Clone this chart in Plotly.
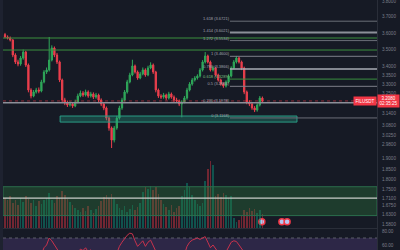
import math
import plotly.graph_objects as go

BG = "#161a25"
UP = "#2fa85a"
DOWN = "#ec3f4d"

# ---------------- candle data (index = bar number) ----------------
opens = [3.590, 3.575, 3.569, 3.557, 3.468, 3.427, 3.415, 3.450, 3.485, 3.409,
         3.268, 3.235, 3.257, 3.268, 3.262, 3.313, 3.369, 3.381, 3.438, 3.509,
         3.468, 3.427, 3.324, 3.213, 3.197, 3.186, 3.191, 3.181, 3.202, 3.235,
         3.251, 3.240, 3.257, 3.235, 3.246, 3.229, 3.240, 3.213, 3.191, 3.170,
         3.116, 3.064, 3.002, 3.064, 3.116, 3.170, 3.213, 3.257, 3.313, 3.352,
         3.404, 3.369, 3.335, 3.358, 3.381, 3.352, 3.392, 3.409, 3.369, 3.268,
         3.235, 3.229, 3.240, 3.224, 3.246, 3.229, 3.213, 3.208, 3.191, 3.202,
         3.224, 3.268, 3.301, 3.324, 3.335, 3.346, 3.381, 3.427, 3.462, 3.427,
         3.381, 3.392, 3.352, 3.324, 3.301, 3.290, 3.313, 3.346, 3.392, 3.427,
         3.450, 3.427, 3.392, 3.257, 3.202, 3.191, 3.170, 3.159, 3.186, 3.224]
highs = [3.600, 3.585, 3.578, 3.562, 3.478, 3.440, 3.462, 3.500, 3.492, 3.418,
         3.278, 3.268, 3.280, 3.282, 3.325, 3.380, 3.395, 3.575, 3.525, 3.518,
         3.480, 3.435, 3.332, 3.225, 3.210, 3.205, 3.200, 3.215, 3.248, 3.265,
         3.262, 3.270, 3.266, 3.258, 3.255, 3.252, 3.248, 3.222, 3.200, 3.178,
         3.124, 3.072, 3.075, 3.128, 3.182, 3.225, 3.268, 3.325, 3.365, 3.440,
         3.412, 3.378, 3.370, 3.395, 3.390, 3.405, 3.425, 3.418, 3.376, 3.276,
         3.245, 3.252, 3.248, 3.258, 3.254, 3.238, 3.225, 3.216, 3.212, 3.235,
         3.280, 3.312, 3.335, 3.346, 3.356, 3.392, 3.438, 3.485, 3.470, 3.435,
         3.405, 3.400, 3.360, 3.332, 3.310, 3.322, 3.356, 3.402, 3.438, 3.462,
         3.458, 3.435, 3.400, 3.265, 3.212, 3.200, 3.180, 3.195, 3.235, 3.232]
lows = [3.568, 3.560, 3.548, 3.455, 3.415, 3.402, 3.405, 3.440, 3.398, 3.255,
        3.222, 3.228, 3.248, 3.250, 3.255, 3.305, 3.358, 3.372, 3.430, 3.455,
        3.415, 3.312, 3.200, 3.185, 3.175, 3.178, 3.170, 3.174, 3.195, 3.228,
        3.230, 3.232, 3.225, 3.226, 3.218, 3.220, 3.202, 3.180, 3.158, 3.104,
        3.050, 2.962, 2.990, 3.055, 3.108, 3.160, 3.205, 3.248, 3.305, 3.345,
        3.360, 3.325, 3.328, 3.350, 3.342, 3.345, 3.385, 3.358, 3.255, 3.224,
        3.218, 3.220, 3.212, 3.216, 3.220, 3.202, 3.198, 3.180, 3.120, 3.195,
        3.215, 3.260, 3.292, 3.315, 3.326, 3.338, 3.372, 3.418, 3.418, 3.372,
        3.372, 3.342, 3.315, 3.292, 3.280, 3.282, 3.305, 3.338, 3.385, 3.418,
        3.418, 3.380, 3.245, 3.190, 3.180, 3.160, 3.148, 3.150, 3.178, 3.198]
closes = [3.575, 3.569, 3.557, 3.468, 3.427, 3.415, 3.450, 3.485, 3.409, 3.268,
          3.235, 3.257, 3.268, 3.262, 3.313, 3.369, 3.381, 3.438, 3.509, 3.468,
          3.427, 3.324, 3.213, 3.197, 3.186, 3.191, 3.181, 3.202, 3.235, 3.251,
          3.240, 3.257, 3.235, 3.246, 3.229, 3.240, 3.213, 3.191, 3.170, 3.116,
          3.064, 3.002, 3.064, 3.116, 3.170, 3.213, 3.257, 3.313, 3.352, 3.404,
          3.369, 3.335, 3.358, 3.381, 3.352, 3.392, 3.409, 3.369, 3.268, 3.235,
          3.229, 3.240, 3.224, 3.246, 3.229, 3.213, 3.208, 3.191, 3.202, 3.224,
          3.268, 3.301, 3.324, 3.335, 3.346, 3.381, 3.427, 3.462, 3.427, 3.381,
          3.392, 3.352, 3.324, 3.301, 3.290, 3.313, 3.346, 3.392, 3.427, 3.450,
          3.427, 3.392, 3.257, 3.202, 3.191, 3.170, 3.159, 3.186, 3.224, 3.208]
volume = [31, 29, 33, 26, 29, 24, 31, 27, 33, 30, 26, 29, 23, 28, 25, 29, 31, 36, 29, 26,
          33, 31, 38, 34, 30, 27, 24, 21, 19, 17, 21, 18, 23, 19, 16, 20, 23, 28, 32, 34,
          31, 35, 30, 25, 21, 19, 23, 17, 20, 24, 19, 22, 26, 37, 43, 41, 44, 39, 43, 35,
          29, 25, 22, 19, 24, 17, 21, 23, 33, 39, 47, 43, 34, 29, 25, 23, 26, 49, 61, 69,
          65, 33, 35, 32, 36, 34, 31, 33, 11, 7, 9, 13, 19, 17, 21, 18, 20, 16, 19, 15]
rsi = [48, 46, 44, 36, 33, 34, 42, 48, 38, 30, 28, 34, 37, 36, 46, 56, 60, 70, 66, 58,
       52, 42, 34, 32, 31, 33, 32, 40, 48, 54, 52, 56, 50, 53, 48, 52, 44, 38, 34, 28,
       24, 22, 38, 48, 58, 64, 70, 74, 77, 76, 66, 58, 62, 66, 58, 64, 67, 56, 40, 36,
       35, 40, 37, 43, 40, 36, 35, 32, 38, 46, 58, 64, 67, 68, 70, 68, 70, 72, 64, 56,
       60, 52, 47, 44, 43, 50, 58, 64, 66, 65, 60, 54, 38, 32, 31, 29, 28, 38, 46, 43]
bars = list(range(len(closes)))

# ---------------- levels ----------------
fib_ratios = [1.618, 1.414, 1.272, 1, 0.786, 0.618, 0.5, 0.236, 0]
fib_low = 3.1168
fib_high = 3.4600
fib_start = 86.5
green_levels = [3.569, 3.497]
zone_main_x = [21.2, 112.3]
zone_main_y = [3.095, 3.127]
zone_mid_y = [1.625, 1.765]
mid_line = 1.71
event_bars = [98.8, 106.5, 108.5]
event_level = 1.595
symbol = "FILUSDT"
countdown = "02:35:25"

main_ticks = [3.8, 3.7, 3.6, 3.5, 3.4, 3.35, 3.3, 3.25, 3.14, 3.08, 3.025, 2.98]
mid_ticks = [1.9, 1.85, 1.8, 1.75, 1.71, 1.675, 1.63, 1.58]
rsi_ticks = [80, 60]

X0, X1 = -0.77, 143.08

fig = go.Figure()

def hline(y, x0, x1, color, width=1, dash="solid", axis="y"):
    fig.add_trace(go.Scatter(x=[x0, x1], y=[y, y], mode="lines", yaxis=axis,
                             line=dict(color=color, width=width, dash=dash),
                             hoverinfo="skip", showlegend=False))

# main zone box
fig.add_trace(go.Scatter(
    x=[zone_main_x[0], zone_main_x[1], zone_main_x[1], zone_main_x[0], zone_main_x[0]],
    y=[zone_main_y[0], zone_main_y[0], zone_main_y[1], zone_main_y[1], zone_main_y[0]],
    mode="lines", fill="toself", fillcolor="rgba(38,166,140,0.30)",
    line=dict(color="#2a9d86", width=1), hoverinfo="skip", showlegend=False, yaxis="y"))

for g in green_levels:
    hline(g, X0, X1, "#3a8f3e", 1)

fib_style = {1.618: ("#6b6e78", 1), 1.414: ("#8c8f99", 2), 1.272: ("#6b6e78", 1),
             1: ("#7d808a", 1), 0.786: ("#a9acb5", 1.5), 0.618: ("#3a8f3e", 1),
             0.5: ("#7d808a", 1), 0.236: ("#8c8f99", 1.5), 0: ("#6b6e78", 1)}
lab_x, lab_y, lab_t, lab_c = [], [], [], []
for r in fib_ratios:
    p = fib_low + r * (fib_high - fib_low)
    c, w = fib_style[r]
    start = X0 if r == 0.236 else fib_start
    hline(p, start, X1, c, w)
    lab_x.append(fib_start - 0.3)
    lab_y.append(p)
    lab_t.append(f"{r:g} ({p:.4f})")
    lab_c.append("#7fbf7f" if r in (0.618,) else "#a0a3ad")

# current price dotted line
hline(closes[-1], X0, X1, "rgba(242,54,69,0.55)", 1, "dot")

fig.add_trace(go.Candlestick(
    x=bars, open=opens, high=highs, low=lows, close=closes, yaxis="y",
    increasing=dict(line=dict(color=UP, width=1), fillcolor=UP),
    decreasing=dict(line=dict(color=DOWN, width=1), fillcolor=DOWN),
    whiskerwidth=0, hoverinfo="skip", showlegend=False))

fig.add_trace(go.Scatter(x=lab_x, y=lab_y, text=lab_t, mode="text", yaxis="y",
                         textposition="top left",
                         textfont=dict(size=4, color=lab_c, family="Liberation Sans"),
                         hoverinfo="skip", showlegend=False))

# volume-like bars in the middle panel
vcolors = ["rgba(8,153,129,0.45)" if c >= o else "rgba(242,54,69,0.42)"
           for o, c in zip(opens, closes)]
fig.add_trace(go.Bar(x=bars, y=volume, yaxis="y4", marker=dict(color=vcolors, line=dict(width=0)),
                     width=0.55, hoverinfo="skip", showlegend=False))

# event markers
fig.add_trace(go.Scatter(x=event_bars, y=[event_level] * len(event_bars), mode="markers",
                         yaxis="y2", marker=dict(size=6, color="#b8c4ef",
                                                 line=dict(color="#f23645", width=1.5)),
                         hoverinfo="skip", showlegend=False))

# RSI line
fig.add_trace(go.Scatter(x=bars, y=rsi, mode="lines", yaxis="y3",
                         line=dict(color="#c8324c", width=1), hoverinfo="skip", showlegend=False))

shapes = [
    dict(type="rect", xref="x", yref="y2", x0=X0, x1=X1, y0=zone_mid_y[0], y1=zone_mid_y[1],
         fillcolor="rgba(46,125,60,0.35)", line=dict(color="#2b6e4c", width=1), layer="above"),
    dict(type="line", xref="x", yref="y2", x0=X0, x1=X1, y0=mid_line, y1=mid_line,
         line=dict(color="#c9ccc9", width=1.2), layer="above"),
    dict(type="rect", xref="x", yref="y3", x0=X0, x1=X1, y0=40, y1=70,
         fillcolor="rgba(126,87,194,0.22)", line=dict(width=0), layer="below"),
    dict(type="line", xref="x", yref="y3", x0=X0, x1=X1, y0=70, y1=70,
         line=dict(color="#5d5f6b", width=1, dash="dot"), layer="below"),
    dict(type="line", xref="paper", yref="paper", x0=0, x1=1, y0=0.086, y1=0.086,
         line=dict(color="#2a2e39", width=1)),
    dict(type="rect", xref="paper", yref="paper", x0=-3 / 374, x1=0, y0=0, y1=1,
         fillcolor="#1e2230", line=dict(width=0)),
]

last = closes[-1]
annotations = [
    dict(text=symbol, xref="paper", x=1.0, xanchor="right", yref="y", y=math.log10(last),
         yanchor="middle", showarrow=False, bgcolor="#f23645",
         font=dict(size=4.5, color="white", family="Liberation Sans"), borderpad=1.5),
    dict(text=f"{last:.4f}<br>{countdown}", xref="paper", x=1.0, xanchor="left", yref="y",
         y=math.log10(last), yanchor="middle", showarrow=False, bgcolor="#f23645",
         font=dict(size=4.5, color="white", family="Liberation Sans"), borderpad=0.5, width=20),
]

tickfont = dict(size=4.6, color="#7c7f89", family="Liberation Sans")
fig.update_layout(
    width=400, height=250, margin=dict(l=3, r=23, t=0, b=0),
    paper_bgcolor=BG, plot_bgcolor=BG, showlegend=False, bargap=0,
    shapes=shapes, annotations=annotations,
    xaxis=dict(range=[X0, X1], showticklabels=False, showgrid=False, zeroline=False,
               rangeslider=dict(visible=False), anchor="y3", fixedrange=True),
    yaxis=dict(type="log", domain=[0.4, 1], range=[math.log10(2.952), math.log10(3.8064)],
               side="right", anchor="x", tickvals=main_ticks,
               ticktext=[f"{v:.4f}" for v in main_ticks], showgrid=False, zeroline=False,
               tickfont=tickfont, ticks="", showline=True, linecolor="#2a2e39",
               ticklabelstandoff=3, ticklabeloverflow="allow"),
    yaxis2=dict(domain=[0.084, 0.4], range=[1.560, 1.943], side="right", anchor="x",
                tickvals=mid_ticks, ticktext=[f"{v:.4f}" for v in mid_ticks], showgrid=False,
                zeroline=False, tickfont=tickfont, ticks="", showline=True, linecolor="#2a2e39",
                ticklabelstandoff=3),
    yaxis4=dict(overlaying="y2", range=[0, 80], visible=False, side="left", anchor="x"),
    yaxis3=dict(domain=[0, 0.084], range=[52.75, 83.0], side="right", anchor="x",
                tickvals=rsi_ticks, ticktext=[f"{v:.2f}" for v in rsi_ticks], showgrid=False,
                zeroline=False, tickfont=tickfont, ticks="", showline=True, linecolor="#2a2e39",
                ticklabelstandoff=3),
)

fig.write_html("out.html")
